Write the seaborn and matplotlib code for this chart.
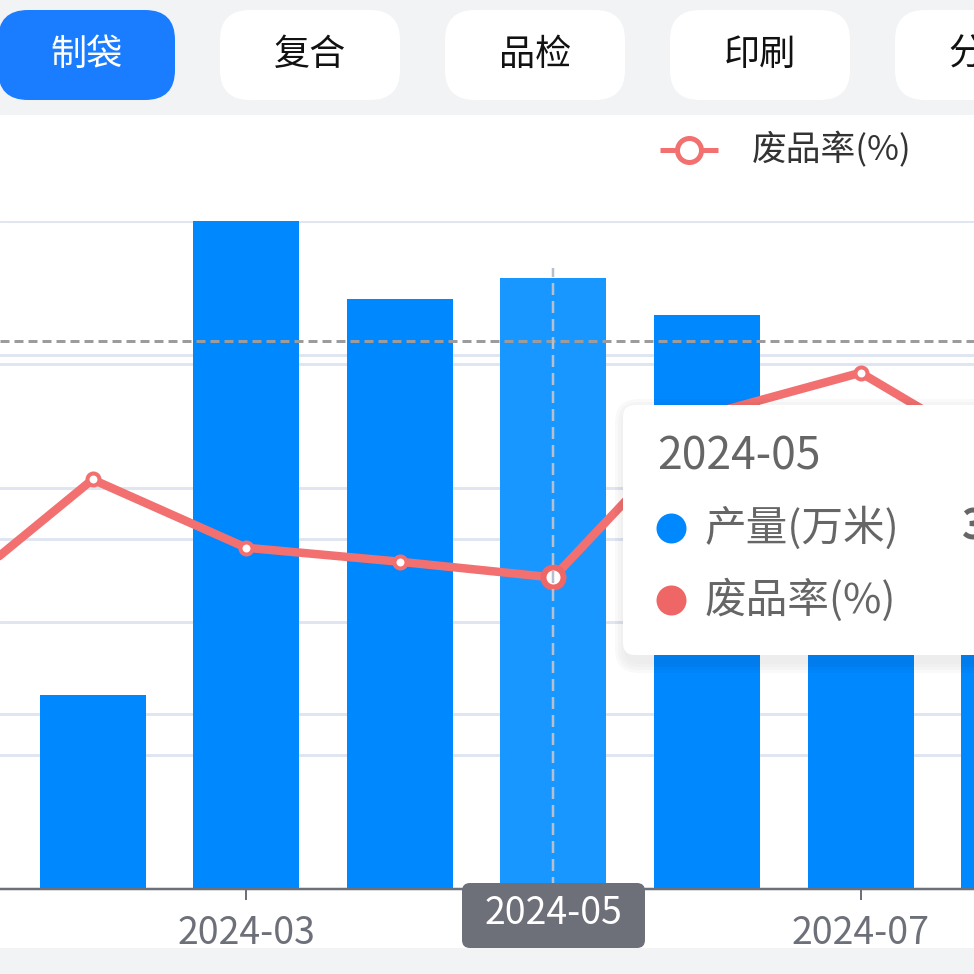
import numpy as np
import pandas as pd
import matplotlib
matplotlib.use("Agg")
import matplotlib.pyplot as plt
import matplotlib.transforms as mtransforms
from matplotlib.patches import FancyBboxPatch, Rectangle
import seaborn as sns

# ---------------- data ----------------
tabs = ["制袋", "复合", "品检", "印刷", "分切"]
active_tab = "制袋"
months = ["2024-01", "2024-02", "2024-03", "2024-04", "2024-05", "2024-06", "2024-07", "2024-08"]
output_wm = [30.0, 11.6, 40.0, 35.3, 36.6, 34.4, 26.0, 28.0]      # 产量(万米)
scrap_rate = [1.62, 2.34, 1.95, 1.87, 1.78, 2.71, 2.95, 2.43]     # 废品率(%)
bar_name = "产量(万米)"
line_name = "废品率(%)"
selected = "2024-05"
left_ticks = [0, 8, 16, 24, 32, 40]
right_ticks = [0, 1, 2, 3]
right_max = 3.817
pointer_value = 32.8   # horizontal cross pointer, left-axis units

# ---------------- style ----------------
sns.set_theme(style="white")
plt.rcParams["font.family"] = ["Noto Sans CJK SC", "DejaVu Sans"]
plt.rcParams["lines.scale_dashes"] = False

BLUE = "#0088ff"
BLUE_SEL = "#1797ff"
RED = "#f27070"
GRID = "#e0e6f1"
AXIS = "#6e7079"
PX = 0.72  # points per pixel at dpi 100

fig = plt.figure(figsize=(9.74, 9.74), dpi=100, facecolor="#f2f3f5")
W = H = 974.0

def frac(x0, y_top, x1, y_bot):
    return [x0 / W, 1 - y_bot / H, (x1 - x0) / W, (y_bot - y_top) / H]

# background panel
bg = fig.add_axes([0, 0, 1, 1], zorder=-5)
bg.set_xlim(0, W); bg.set_ylim(H, 0); bg.axis("off")
bg.add_patch(Rectangle((0, 115), W, 948 - 115, color="white", lw=0))

# ---------------- chart ----------------
df = pd.DataFrame({"month": months, "output": output_wm, "rate": scrap_rate})
n = len(months)
sel_idx = months.index(selected)

ax = fig.add_axes(frac(0, 221, 974, 889), zorder=1)
ax.set_facecolor("none")
palette = [BLUE_SEL if m == selected else BLUE for m in months]
sns.barplot(data=df, x="month", y="output", hue="month", palette=palette,
            legend=False, width=0.69, saturation=1, ax=ax, zorder=2, linewidth=0)

ax_line = ax.twinx()
ax_line.set_zorder(2)
ax_line.set_facecolor("none")
sns.pointplot(data=df, x="month", y="rate", color=RED, markers="o",
              linewidth=8.5 * PX, markersize=12 * PX, markerfacecolor="white",
              markeredgecolor=RED, markeredgewidth=4 * PX, errorbar=None, ax=ax_line)
ax_line.plot([sel_idx], [scrap_rate[sel_idx]], marker="o", ms=20 * PX, mfc="white",
             mec="#ee6666", mew=6 * PX, zorder=6)

ax.set_ylim(0, left_ticks[-1])
ax_line.set_ylim(0, right_max)
for a in (ax, ax_line):
    for s in a.spines.values():
        s.set_visible(False)
    a.set_ylabel(""); a.set_xlabel("")
    a.set_yticks([])

# grid lines (both axes), behind bars
for v in left_ticks[1:]:
    ax.axhline(v, color=GRID, lw=3 * PX, zorder=0)
blend = mtransforms.blended_transform_factory(ax.transAxes, ax_line.transData)
for v in right_ticks[1:]:
    ax.plot([0, 1], [v, v], transform=blend, color=GRID, lw=3 * PX, zorder=0)

ax.spines["bottom"].set_visible(True)
ax.spines["bottom"].set_color(AXIS)
ax.spines["bottom"].set_linewidth(2.5 * PX)
tick_idx = list(range(0, n, 2))
ax.set_xticks(tick_idx)
ax.set_xticklabels([months[i] for i in tick_idx])
ax.tick_params(axis="x", length=11 * PX, width=2 * PX, color=AXIS, labelcolor=AXIS,
               labelsize=27, pad=10, bottom=True)
# the selected month's label is replaced by the axis-pointer label
for t in ax.get_xticklabels():
    if t.get_text() == selected:
        t.set_visible(False)
ax_line.tick_params(axis="x", bottom=False, labelbottom=False)
ax_line.tick_params(axis="y", right=False, labelright=False)

# axis pointers
ax_line.axvline(sel_idx, ymin=0, ymax=0.93, color="#b7bfcc", lw=2.5 * PX,
                dashes=(12 * PX, 6 * PX), zorder=7)
ax.axhline(pointer_value, color="#9c9c9c", lw=3 * PX, dashes=(9 * PX, 5 * PX), zorder=5)

# visible window of the (scrolled) category axis
for a in (ax, ax_line):
    a.set_xlim(0.397, 6.738)

# ---------------- overlay ----------------
ov = fig.add_axes([0, 0, 1, 1], zorder=10)
ov.set_xlim(0, W); ov.set_ylim(H, 0); ov.axis("off"); ov.set_facecolor("none")

# tabs
tab_x = [-2, 220, 445, 670, 895]
for x0, name in zip(tab_x, tabs):
    active = name == active_tab
    w = 177 if active else 180
    ov.add_patch(FancyBboxPatch((x0 + 4, 14), w - 8, 82,
                                boxstyle="round,pad=4,rounding_size=30",
                                fc="#1a7cff" if active else "white", ec="none"))
    ov.text(x0 + w / 2 if not active else 87, 55, name, ha="center", va="center",
            fontsize=26, color="white" if active else "#111111")

# legend
ov.plot([660, 718], [150, 150], color=RED, lw=5 * PX, solid_capstyle="butt")
ov.plot([689], [150], marker="o", ms=24 * PX, mfc="white", mec=RED, mew=5 * PX)
ov.text(752, 150, line_name, ha="left", va="center", fontsize=25, color="#333333")

# x pointer label
ov.add_patch(FancyBboxPatch((466, 887), 175, 57, boxstyle="round,pad=4,rounding_size=8",
                            fc=AXIS, ec="none"))
ov.text(553, 914, selected, ha="center", va="center", fontsize=27, color="white")

# tooltip
for i, a in enumerate([0.025, 0.02, 0.015, 0.01]):
    g = 12 - i * 3
    ov.add_patch(FancyBboxPatch((623 - g + 4, 405 - g + 6), 420 + 2 * g, 250 + 2 * g,
                                boxstyle="round,pad=0,rounding_size=%d" % (12 + g),
                                fc="black", ec="none", alpha=a))
ov.add_patch(FancyBboxPatch((623, 405), 420, 250, boxstyle="round,pad=0,rounding_size=12",
                            fc="white", ec="none"))
ov.text(657, 457, selected, ha="left", va="center", fontsize=32, color="#666666")
ov.plot([671], [528], marker="o", ms=30 * PX, color=BLUE, mec="none")
ov.text(705, 528, bar_name, ha="left", va="center", fontsize=30, color="#666666")
ov.text(962, 528, f"{output_wm[sel_idx]:.1f}", ha="left", va="center", fontsize=30,
        color="#666666", fontweight="bold")
ov.plot([671], [600], marker="o", ms=30 * PX, color="#ee6666", mec="none")
ov.text(705, 600, line_name, ha="left", va="center", fontsize=30, color="#666666")

fig.savefig("out.png", dpi=100, facecolor=fig.get_facecolor())
